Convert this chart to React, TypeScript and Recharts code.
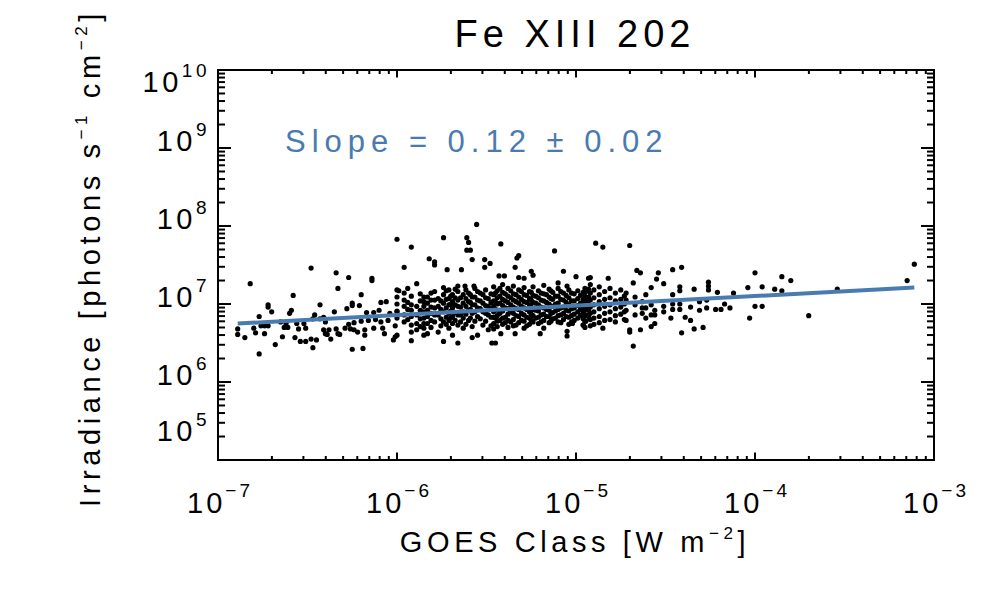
import React from "react";
import { ScatterChart, Scatter, XAxis, YAxis, ReferenceArea } from "recharts";

// ---- values (log10 of GOES class, log10 of irradiance) ----
const westPairs: [number, number][] = [
  [-6.48, 7.46], [-6.82, 7.26], [-6.34, 7.40], [-6.27, 7.34], [-6.14, 7.33], [-6.14, 7.30], [-6.33, 7.20], [-5.99, 7.17], [-6.58, 7.11], [-6.20, 7.12],
  [-6.72, 6.99], [-6.72, 6.96], [-6.43, 6.99], [-6.25, 7.01], [-6.25, 6.98], [-6.21, 6.98], [-6.09, 7.02], [-6.06, 7.03], [-6.70, 6.90], [-6.60, 6.88],
  [-6.59, 6.92], [-6.28, 6.94], [-6.35, 6.90], [-6.46, 6.86], [-6.77, 6.84], [-6.89, 6.68], [-6.89, 6.61], [-6.85, 6.57], [-6.80, 6.69], [-6.79, 6.63],
  [-6.74, 6.72], [-6.74, 6.62], [-6.72, 6.72], [-6.68, 6.48], [-6.64, 6.58], [-6.65, 6.77], [-6.63, 6.70], [-6.61, 6.70], [-6.62, 6.75], [-6.56, 6.75],
  [-6.55, 6.68], [-6.57, 6.57], [-6.54, 6.52], [-6.51, 6.52], [-6.52, 6.75], [-6.51, 6.69], [-6.48, 6.55], [-6.47, 6.44], [-6.45, 6.54], [-6.47, 6.81],
  [-6.43, 6.81], [-6.41, 6.83], [-6.40, 6.77], [-6.41, 6.67], [-6.40, 6.62], [-6.38, 6.67], [-6.39, 6.61], [-6.37, 6.55], [-6.34, 6.68], [-6.33, 6.62],
  [-6.32, 6.61], [-6.77, 6.36], [-6.25, 6.42], [-6.19, 6.43], [-6.29, 6.69], [-6.27, 6.74], [-6.26, 6.68], [-6.24, 6.76], [-6.24, 6.67], [-6.22, 6.64],
  [-6.20, 6.78], [-6.18, 6.60], [-6.18, 6.67], [-6.17, 6.89], [-6.16, 6.79], [-6.13, 6.89], [-6.13, 6.69], [-6.12, 6.80], [-6.10, 6.92], [-6.09, 6.77],
  [-6.08, 6.69], [-6.07, 6.62], [-6.05, 6.79], [-6.04, 6.88], [-6.02, 6.54], [-6.01, 6.58], [-6.00, 6.91], [-6.01, 6.72], [-6.76, 6.72],
];

const centralOutliers: [number, number][] = [
  [-5.555, 8.02], [-6.00, 7.83], [-5.74, 7.85], [-5.61, 7.85], [-5.60, 7.79], [-5.61, 7.69], [-5.59, 7.69], [-5.58, 7.57], [-5.92, 7.73], [-5.82, 7.58],
  [-5.79, 7.54], [-5.79, 7.50], [-5.96, 7.47], [-5.72, 7.44], [-5.64, 7.44], [-5.51, 7.57], [-5.51, 7.47], [-5.89, 7.26], [-5.74, 7.21], [-5.71, 7.18],
  [-5.66, 7.23], [-5.62, 7.23], [-5.57, 7.23], [-6.00, 6.60], [-5.66, 6.50], [-5.47, 6.50],
  [-5.42, 7.77], [-5.12, 7.68], [-5.32, 7.62], [-5.33, 7.59], [-5.48, 7.52], [-5.34, 7.47], [-5.25, 7.42], [-5.24, 7.37], [-5.07, 7.42], [-5.00, 7.35],
  [-5.32, 7.34], [-5.29, 7.33], [-5.43, 7.36], [-5.40, 7.36], [-5.10, 7.27], [-5.05, 7.23], [-4.93, 7.33],
  [-5.45, 6.50], [-5.42, 6.62], [-5.34, 6.62], [-5.20, 6.62], [-5.18, 6.69], [-5.05, 6.65], [-5.05, 6.59], [-4.96, 6.73], [-5.02, 6.75],
];

const eastPairs: [number, number][] = [
  [-4.89, 7.78], [-4.85, 7.73], [-4.70, 7.75], [-4.66, 7.43], [-4.64, 7.40], [-4.54, 7.40], [-4.46, 7.44], [-4.41, 7.47], [-4.82, 7.33], [-4.68, 7.27],
  [-4.55, 7.32], [-4.51, 7.26], [-4.42, 7.22], [-4.42, 7.17], [-4.34, 7.19], [-4.26, 7.28], [-4.26, 7.23], [-4.26, 7.18], [-4.21, 7.15], [-4.12, 7.14],
  [-4.00, 7.40], [-4.04, 7.21], [-3.96, 7.22], [-4.00, 6.97], [-3.96, 6.97], [-4.03, 6.82], [-4.92, 7.34], [-4.85, 6.69], [-4.70, 6.67], [-4.70, 6.64],
  [-4.68, 6.46], [-4.64, 6.67], [-4.58, 6.71], [-4.56, 6.75], [-4.41, 6.63], [-4.34, 6.68], [-4.29, 6.70], [-4.47, 6.82], [-4.39, 6.83], [-4.36, 6.79],
  [-4.72, 7.14], [-4.72, 7.05], [-4.72, 6.92], [-4.72, 6.79], [-4.67, 7.09], [-4.67, 6.99], [-4.67, 6.86], [-4.63, 7.03], [-4.63, 6.95], [-4.63, 6.88],
  [-4.61, 7.12], [-4.61, 6.95], [-4.61, 6.82], [-4.58, 7.21], [-4.58, 6.99], [-4.58, 6.86], [-4.56, 6.92], [-4.56, 6.86], [-4.51, 6.97], [-4.51, 6.90],
  [-4.46, 7.12], [-4.46, 7.00], [-4.46, 6.93], [-4.42, 7.00], [-4.42, 6.93], [-4.36, 6.96], [-4.31, 7.03], [-4.31, 6.92], [-4.27, 7.05], [-4.27, 6.95],
  [-4.22, 6.93], [-4.19, 6.93], [-4.17, 7.00], [-4.14, 6.95],
];

const farEastPairs: [number, number][] = [
  [-3.89, 7.19], [-3.85, 7.35], [-3.85, 7.17], [-3.80, 7.30], [-3.70, 6.85], [-3.54, 7.19], [-3.15, 7.30], [-3.11, 7.51],
];

// columns of flares sharing one GOES class: [log10 class, log10 irradiances]
const columnsNearC1: [number, number[]][] = [
  [-6.00, [7.18, 7.09, 7.00, 6.90, 6.82]],
  [-5.96, [7.14, 7.05, 6.97, 6.86, 6.77]],
  [-5.94, [7.20, 7.02, 6.93, 6.80]],
  [-5.92, [7.10, 6.99, 6.92, 6.84, 6.73, 6.64, 6.53]],
  [-5.89, [6.97, 6.86, 6.75, 6.67]],
  [-5.87, [7.13, 7.04, 6.92, 6.81, 6.71]],
  [-5.85, [7.09, 7.03, 6.97, 6.90, 6.82, 6.75, 6.69, 6.60]],
  [-5.83, [7.09, 7.01, 6.92, 6.84, 6.75, 6.62]],
  [-5.81, [7.14, 7.05, 6.96, 6.88, 6.79, 6.70]],
  [-5.79, [7.16, 7.05, 6.95, 6.86, 6.77]],
  [-5.77, [7.07, 6.97, 6.86, 6.64]],
  [-5.755, [7.04, 6.93, 6.81, 6.72]],
  [-5.74, [7.12, 7.01, 6.90, 6.77, 6.52]],
  [-5.725, [7.17, 7.06, 6.95, 6.83, 6.74]],
  [-5.71, [7.07, 6.99, 6.88, 6.79, 6.69]],
  [-5.70, [7.10, 7.00, 6.91, 6.82]],
  [-5.69, [7.12, 7.03, 6.95, 6.84, 6.75, 6.60]],
  [-5.675, [7.19, 7.08, 6.99, 6.89, 6.79]],
  [-5.66, [7.16, 7.05, 6.97, 6.86, 6.73]],
  [-5.645, [7.08, 6.96, 6.86, 6.77]],
  [-5.63, [7.12, 7.01, 6.90, 6.82, 6.69]],
  [-5.615, [7.18, 7.07, 6.97, 6.87, 6.74]],
  [-5.60, [7.14, 7.03, 6.92, 6.79]],
  [-5.59, [7.12, 7.02, 6.93, 6.82]],
  [-5.58, [7.09, 6.99, 6.88, 6.71, 6.57]],
  [-5.565, [7.20, 7.09, 6.99, 6.90, 6.78]],
  [-5.55, [7.16, 7.05, 6.95, 6.84, 6.60]],
  [-5.535, [7.14, 7.04, 6.94, 6.81]],
  [-5.52, [7.12, 7.01, 6.90, 6.73]],
  [-5.505, [7.18, 7.08, 6.98, 6.88, 6.78]],
  [-5.49, [7.07, 6.97, 6.86, 6.67]],
  [-5.475, [7.13, 7.02, 6.93, 6.83, 6.72]],
];

const columnsNearC5: [number, number[]][] = [
  [-5.46, [7.22, 7.12, 7.04, 6.97, 6.90, 6.83, 6.75, 6.68]],
  [-5.45, [7.14, 7.03, 6.93, 6.82]],
  [-5.44, [7.17, 7.08, 7.00, 6.92, 6.85, 6.78, 6.71]],
  [-5.425, [7.20, 7.10, 7.01, 6.88, 6.79]],
  [-5.41, [7.25, 7.15, 7.06, 6.98, 6.91, 6.82, 6.74]],
  [-5.395, [7.13, 7.04, 6.95, 6.83, 6.76]],
  [-5.38, [7.20, 7.10, 7.02, 6.94, 6.87, 6.79, 6.70]],
  [-5.365, [7.17, 7.08, 6.99, 6.90, 6.77]],
  [-5.35, [7.23, 7.13, 7.05, 6.96, 6.88, 6.80, 6.72]],
  [-5.335, [7.12, 7.03, 6.94, 6.85, 6.73]],
  [-5.32, [7.18, 7.09, 7.01, 6.93, 6.84, 6.76]],
  [-5.305, [7.16, 7.06, 6.97, 6.88, 6.79]],
  [-5.29, [7.21, 7.12, 7.03, 6.95, 6.86, 6.78, 6.69]],
  [-5.275, [7.11, 7.02, 6.93, 6.83, 6.72]],
  [-5.26, [7.16, 7.07, 6.99, 6.90, 6.82, 6.74]],
  [-5.25, [7.15, 7.05, 6.96, 6.87, 6.79]],
  [-5.24, [7.22, 7.11, 7.02, 6.93, 6.85, 6.77]],
  [-5.225, [7.10, 7.01, 6.92, 6.82]],
  [-5.21, [7.17, 7.08, 6.99, 6.91, 6.83, 6.75]],
  [-5.195, [7.14, 7.05, 6.96, 6.86, 6.77]],
  [-5.18, [7.24, 7.13, 7.04, 6.95, 6.87, 6.79]],
  [-5.165, [7.12, 7.02, 6.93, 6.84]],
  [-5.15, [7.19, 7.09, 7.00, 6.92, 6.84, 6.76]],
  [-5.14, [7.17, 7.07, 6.97, 6.88, 6.78]],
  [-5.13, [7.15, 7.06, 6.97, 6.89, 6.81]],
  [-5.115, [7.10, 7.00, 6.91, 6.82]],
  [-5.10, [7.20, 7.10, 7.01, 6.93, 6.85, 6.77]],
  [-5.085, [7.16, 7.06, 6.95, 6.86, 6.76]],
  [-5.07, [7.14, 7.05, 6.96, 6.88, 6.80]],
  [-5.055, [7.11, 7.02, 6.92, 6.84]],
  [-5.04, [7.18, 7.08, 6.99, 6.91, 6.83, 6.74]],
  [-5.025, [7.14, 7.04, 6.94, 6.85, 6.77]],
  [-5.01, [7.13, 7.04, 6.95, 6.87, 6.79]],
  [-4.99, [7.17, 7.07, 6.98, 6.90, 6.82]],
  [-4.975, [7.11, 7.01, 6.93, 6.85]],
  [-4.96, [7.15, 7.06, 6.97, 6.89, 6.81, 6.73]],
  [-4.945, [7.16, 7.05, 6.95, 6.86, 6.78]],
  [-4.93, [7.19, 7.09, 7.00, 6.92, 6.84]],
];

const columnsNearM1: [number, number[]][] = [
  [-4.95, [7.20, 7.10, 7.02, 6.93, 6.85, 6.78, 6.70]],
  [-4.92, [7.25, 7.14, 7.05, 6.96, 6.88, 6.80, 6.72]],
  [-4.90, [7.18, 7.08, 6.99, 6.90, 6.82, 6.74]],
  [-4.87, [7.22, 7.12, 7.03, 6.94, 6.84, 6.76]],
  [-4.84, [7.16, 7.06, 6.97, 6.88, 6.79]],
  [-4.81, [7.20, 7.08, 6.99, 6.90, 6.80]],
  [-4.78, [7.14, 7.04, 6.94, 6.85, 6.77]],
  [-4.75, [7.18, 7.06, 6.96, 6.87]],
  [-4.73, [7.10, 7.00, 6.90, 6.80]],
];

// fitted power law (end points)
const fitGoesLog = [-6.89, -3.11];
const fitIrrLog = [6.75, 7.21];

// axis ticks
const xDecades = [-7, -6, -5, -4, -3];
const xTickLabels = ["\u22127", "\u22126", "\u22125", "\u22124", "\u22123"];
const yDecades = [5, 6, 7, 8, 9, 10];
const yTickLabels = ["5", "6", "7", "8", "9", "10"];
const minorFactors = [2, 3, 4, 5, 6, 7, 8, 9];

const TITLE = "Fe XIII 202";
const SLOPE_TEXT = "Slope = 0.12 \u00b1 0.02";

// ---- build tables ----
const allPairs: [number, number][] = [
  ...westPairs,
  ...centralOutliers,
  ...eastPairs,
  ...farEastPairs,
  ...[...columnsNearC1, ...columnsNearC5, ...columnsNearM1].flatMap(([gx, ys]) =>
    ys.map((gy) => [gx, gy] as [number, number])
  ),
];
const points = allPairs.map(([gx, gy]) => ({ x: Math.pow(10, gx), y: Math.pow(10, gy) }));
const fitPoints = fitGoesLog.map((gx, i) => ({ x: Math.pow(10, gx), y: Math.pow(10, fitIrrLog[i]) }));

const buildTicks = (decades: number[]) => {
  const t: number[] = [];
  decades.forEach((d, i) => {
    t.push(Math.pow(10, d));
    if (i < decades.length - 1) minorFactors.forEach((f) => t.push(f * Math.pow(10, d)));
  });
  return t;
};
const xTicks = buildTicks(xDecades);
const yTicks = buildTicks(yDecades);

// ---- layout ----
const W = 1000;
const H = 600;
const PL = 218;
const PR = 934;
const PT = 70;
const PB = 460;
const FONT = "'Liberation Sans', Arial, Helvetica, sans-serif";
const BLUE = "#4a7bb0";

const majorIndex = (v: number, decades: number[]) => {
  const l = Math.log10(v);
  const r = Math.round(l);
  if (Math.abs(l - r) > 1e-6) return -1;
  return decades.indexOf(r);
};

const XTick = (props: any) => {
  const { x, payload } = props;
  const idx = majorIndex(payload.value, xDecades);
  const len = idx >= 0 ? 7.5 : 4;
  return (
    <g>
      <line x1={x} x2={x} y1={PB} y2={PB - len} stroke="#000" strokeWidth={2} />
      <line x1={x} x2={x} y1={PT} y2={PT + len} stroke="#000" strokeWidth={2} />
      {idx >= 0 && (
        <text x={x + 2} y={513} textAnchor="middle" fontSize={29} fontFamily={FONT} letterSpacing={3} fill="#000">
          10
          <tspan dy={-16} fontSize={19}>
            {xTickLabels[idx]}
          </tspan>
        </text>
      )}
    </g>
  );
};

const YTick = (props: any) => {
  const { y, payload } = props;
  const idx = majorIndex(payload.value, yDecades);
  const len = idx >= 0 ? 13 : 7;
  let base = y + 3;
  if (idx === yDecades.length - 1) base = 92;
  if (idx === 0) base = 441;
  return (
    <g>
      <line x1={PL} x2={PL + len} y1={y} y2={y} stroke="#000" strokeWidth={2} />
      <line x1={PR} x2={PR - len} y1={y} y2={y} stroke="#000" strokeWidth={2} />
      {idx >= 0 && (
        <text x={210} y={base} textAnchor="end" fontSize={29} fontFamily={FONT} letterSpacing={3.5} fill="#000">
          10
          <tspan dy={-15} fontSize={19}>
            {yTickLabels[idx]}
          </tspan>
        </text>
      )}
    </g>
  );
};

const Dot = (p: any) => <circle cx={p.cx} cy={p.cy} r={2.6} fill="#000" />;
const NoDot = () => <g />;

export default function App() {
  return (
    <div style={{ position: "absolute", left: 0, top: 0, width: W, height: H, background: "#fff" }}>
      <ScatterChart width={W} height={H} margin={{ top: PT, right: W - PR, bottom: H - PB - 30, left: PL - 60 }}>
        <XAxis
          type="number"
          dataKey="x"
          scale="log"
          domain={[1e-7, 1e-3]}
          ticks={xTicks}
          interval={0}
          height={30}
          tickSize={0}
          tickMargin={0}
          tickLine={false}
          axisLine={false}
          allowDataOverflow
          tick={(p: any) => <XTick {...p} />}
        />
        <YAxis
          type="number"
          dataKey="y"
          scale="log"
          domain={[1e5, 1e10]}
          ticks={yTicks}
          interval={0}
          width={60}
          tickSize={0}
          tickMargin={0}
          tickLine={false}
          axisLine={false}
          allowDataOverflow
          tick={(p: any) => <YTick {...p} />}
        />
        <ReferenceArea x1={1e-7} x2={1e-3} y1={1e5} y2={1e10} fill="none" fillOpacity={0} stroke="#000" strokeWidth={2} ifOverflow="visible" />
        <Scatter data={points} shape={Dot} fill="#000" isAnimationActive={false} />
        <Scatter
          data={fitPoints}
          shape={NoDot}
          fill={BLUE}
          stroke={BLUE}
          line={{ stroke: BLUE, strokeWidth: 4 }}
          isAnimationActive={false}
        />
        <text x={575} y={47} textAnchor="middle" fontSize={38} fontFamily={FONT} letterSpacing={5} fill="#000">
          {TITLE}
        </text>
        <text x={285} y={152} fontSize={31} fontFamily={FONT} letterSpacing={6} fill={BLUE}>
          {SLOPE_TEXT}
        </text>
        <text x={575} y={552} textAnchor="middle" fontSize={29} fontFamily={FONT} letterSpacing={4.6} fill="#000">
          {"GOES Class [W m"}
          <tspan dy={-13} fontSize={17}>{"\u22122"}</tspan>
          <tspan dy={13}>{"]"}</tspan>
        </text>
        <text
          transform="rotate(-90)"
          x={-258}
          y={100}
          textAnchor="middle"
          fontSize={29}
          fontFamily={FONT}
          letterSpacing={4.6}
          fill="#000"
        >
          {"Irradiance [photons s"}
          <tspan dy={-13} fontSize={17}>{"\u22121"}</tspan>
          <tspan dy={13}>{" cm"}</tspan>
          <tspan dy={-13} fontSize={17}>{"\u22122"}</tspan>
          <tspan dy={13}>{"]"}</tspan>
        </text>
      </ScatterChart>
    </div>
  );
}
